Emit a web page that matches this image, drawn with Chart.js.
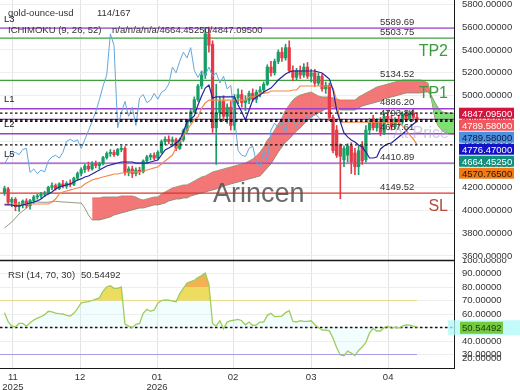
<!DOCTYPE html>
<html>
<head>
<meta charset="utf-8">
<title>gold-ounce-usd</title>
<script src="https://cdn.jsdelivr.net/npm/chart.js@4.4.1/dist/chart.umd.min.js"></script>
<style>
  html, body { margin: 0; padding: 0; background: #fff; }
  #page { position: relative; width: 520px; height: 390px; overflow: hidden; }
  #mainChart { position: absolute; left: 0; top: 0; }
  #rsiChart { position: absolute; left: 0; top: 259px; }
</style>
</head>
<body>
<div id="page">
  <canvas id="mainChart" width="520" height="260"></canvas>
  <canvas id="rsiChart" width="520" height="131"></canvas>
</div>
<script>
// ---- data (daily bars, index 0 = first bar shown) ----
const monthTicks = [2.3, 20.7, 41.8, 62.6, 84, 105.1];
const monthLabels = [['11', '2025'], ['12'], ['01', '2026'], ['02'], ['03'], ['04']];
const priceTicks = [3600, 3800, 4000, 4200, 4400, 4600, 4800, 5000, 5200, 5400, 5600, 5800];
const rsiTicks = [20, 30, 40, 50, 60, 70, 80, 90, 100];

const opens = [4150,4185,4070,4095,4030,4045,4080,4040,4085,4115, 4125,4140,4150,4200,4215,4190,4230,4210,4235,4225,
  4280,4320,4355,4385,4360,4410,4390,4405,4460,4495, 4505,4485,4530,4540,4330,4360,4320,4350,4335,4430,
  4465,4480,4455,4505,4600,4620,4600,4615,4540,4615, 4695,4775,4860,4965,5085,5180,5540,5450,4720,4850,
  4950,4820,4900,4740,4980,5010,4940,4960,5020,4970, 5030,5050,5100,5250,5200,5300,5380,5330,5420,5220,
  5160,5220,5180,5250,5170,5200,5110,5170,5060,5090, 4810,4700,4570,4440,4480,4560,4500,4380,4560,4440,
  4700,4800,4720,4780,4680,4820,4790,4730,4790,4770, 4840,4800,4850,4810];
const highs = [4210,4200,4110,4110,4070,4090,4100,4095,4130,4140, 4155,4165,4210,4240,4230,4240,4260,4250,4265,4290,
  4335,4370,4400,4420,4425,4430,4420,4470,4510,4530, 4525,4540,4560,4555,4380,4385,4370,4375,4440,4480,
  4495,4500,4520,4615,4640,4650,4640,4630,4630,4710, 4790,4880,4990,5100,5210,5595,5600,5480,5100,4990,
  5000,4930,4950,5010,5060,5050,5000,5040,5060,5050, 5080,5120,5270,5300,5320,5400,5420,5450,5480,5260,
  5240,5260,5280,5290,5230,5230,5200,5190,5120,5110, 4830,4740,4580,4560,4580,4590,4540,4560,4600,4740,
  4800,4830,4800,4810,4850,4870,4830,4810,4830,4860, 4870,4870,4880,4850];
const lows = [4130,4050,4030,3995,3990,4020,4020,4010,4060,4095, 4105,4120,4140,4180,4175,4180,4195,4190,4205,4215,
  4260,4300,4330,4340,4350,4370,4360,4395,4445,4470, 4470,4475,4510,4305,4300,4285,4300,4310,4325,4410,
  4440,4440,4445,4495,4575,4580,4570,4520,4530,4600, 4680,4760,4850,4950,5060,5150,5380,4680,4400,4780,
  4780,4760,4700,4700,4930,4900,4870,4930,4950,4940, 4990,5020,5090,5170,5180,5280,5300,5310,5200,5130,
  5140,5150,5160,5150,5120,5080,5090,5040,5020,4780, 4500,4460,4100,4380,4420,4320,4310,4310,4400,4420,
  4660,4700,4690,4650,4660,4760,4700,4710,4740,4750, 4780,4780,4780,4770];
const closes = [4190,4070,4095,4030,4045,4080,4040,4085,4115,4125, 4140,4150,4200,4215,4190,4230,4210,4235,4225,4280,
  4320,4355,4385,4360,4410,4390,4405,4460,4495,4505, 4485,4530,4540,4330,4360,4320,4350,4335,4430,4465,
  4480,4455,4505,4600,4620,4600,4615,4540,4615,4695, 4775,4860,4965,5085,5180,5540,5440,4720,4850,4950,
  4820,4900,4740,4980,5010,4940,4960,5020,4970,5030, 5050,5100,5250,5200,5300,5380,5330,5420,5220,5160,
  5220,5180,5250,5170,5200,5110,5170,5060,5090,4810, 4520,4480,4470,4540,4560,4420,4380,4520,4430,4700,
  4760,4720,4780,4680,4820,4790,4730,4790,4770,4840, 4800,4850,4810,4789.58];

const tenkan = [4046,4046,4046,4037,4037,4046,4054,4063,4072,4081, 4098,4124,4142,4159,4185,4203,4212,4220,4229,4246,
  4264,4273,4290,4299,4316,4334,4351,4369,4386,4395, 4404,4412,4421,4421,4421,4421,4412,4412,4412,4412,
  4421,4430,4438,4482,4526,4543,4561,4587,4613,4683, 4771,4797,4823,4919,4997,5067,5093,4980,4989,4989,
  4989,4989,4989,4989,4919,4858,4788,4875,4962,4989, 5006,5032,5050,5067,5102,5137,5163,5190,5207,5216,
  5216,5216,5216,5216,5216,5216,5207,5198,5172,5146, 5050,4875,4771,4674,4640,4613,4596,4570,4552,4508,
  4456,4456,4465,4535,4561,4579,4587,4613,4640,4666, 4692,4727,4753,4776.47];
const kijun = [4054,4054,4054,4054,4054,4054,4054,4054,4054,4054, 4054,4054,4054,4072,4098,4142,4159,4168,4177,4185,
  4194,4203,4229,4246,4264,4273,4281,4290,4299,4307, 4316,4316,4325,4325,4334,4334,4334,4334,4342,4351,
  4360,4369,4377,4404,4430,4456,4482,4543,4596,4648, 4700,4744,4788,4814,4893,4936,4962,4962,4962,4962,
  4962,4962,4962,4962,4962,4962,4962,4989,4989,4989, 5024,5024,5024,5041,5041,5041,5041,5041,5041,5050,
  5050,5085,5085,5085,5085,5085,5085,5085,5085,5085, 5067,4962,4770,4770,4770,4770,4770,4770,4770,4770,
  4770,4770,4770,4770,4770,4770,4770,4770,4770,4736, 4700,4657,4622,4570.765];
// leading spans run 26 bars past the last candle
const spanA = [3845,3871,3897,3932,3967,3993,4019,4046,4072,4072, 4070,4068,4070,4075,4078,4075,4072,4070,4068,4066,
  4063,4063,4019,3958,3915,3915,3915,3923,3932,3941, 3958,3967,3976,3984,3993,4002,4011,4019,4019,4028,
  4037,4046,4046,4054,4063,4081,4089,4098,4098,4107, 4107,4124,4133,4142,4150,4159,4168,4177,4185,4194,
  4212,4220,4229,4238,4246,4255,4264,4273,4281,4290, 4299,4334,4369,4404,4456,4508,4552,4596,4622,4657,
  4692,4718,4753,4788,4814,4831,4849,4866,4884,4901, 4901,4893,4875,4875,4875,4875,4875,4893,4910,4919,
  4928,4936,4945,4954,4971,4980,4989,4997,5006,5015, 5024,5024,5024,5024,5024,5032,5032,4997,4936,4884,
  4858,4849,4849,4847,4847];
const spanBStart = 24;
const spanB = [4107,4107,4107,4115,4115,4115,4115,4115,4124,4124, 4124,4124,4115,4098,4089,4098,4107,4115,4115,4142,
  4159,4177,4194,4203,4212,4220,4220,4238,4255,4273, 4290,4299,4316,4334,4342,4351,4360,4369,4377,4386,
  4395,4404,4412,4430,4447,4473,4508,4552,4613,4648, 4700,4753,4805,4875,4919,4962,4989,5006,5015,5024,
  5032,5015,4997,4989,4989,4989,4980,4971,4962,4962, 4962,4962,4962,4989,5006,5024,5041,5059,5076,5085,
  5093,5102,5111,5120,5128,5137,5137,5137,5137,5137, 5137,5128,5111,4962,4788,4727,4692,4674,4666,4664,
  4664];
const chikouShift = 26;

const rsi = [61,54.3,51,50.5,53,53,51,53.5,55.5,57, 58,59.5,62,61.5,60.7,60.3,60,59,58.5,60.5,
  64,68.2,68.8,69.2,70,71,72,77,80,81, 79,79,80,52.5,51,50,52.4,53,60.5,63.5,
  62,63,68,70,70.4,70.2,69.5,69,75,79, 83,84,85,87,88.5,90.4,82,53,51,55,
  49,54,55,55.5,56,55,52,54,51.5,52, 54,54,59,60.5,58,58.2,58.5,61,62.5,54.5,
  54,55,54.5,54.5,55,52,50,48,48,47.5, 42,35,29.6,29,32.5,31,29.2,33,35.5,39,
  46,49.2,47.4,47.4,50,51,49.2,50.2,49.6,51, 52,51.8,51,50.54492];
const rsiLevels = [70, 50, 30];

const levelValues = [5589.69, 5503.75, 5134.52, 4886.20, 4793.84, 4667.61, 4410.89, 4149.52];
const levelTags = ['L3', 'TP2', 'TP1', 'L1', '', 'L2', 'L5', 'SL'];
const markValues = [4847.095, 4789.58, 4789.58, 4776.47, 4664.4525, 4570.765];

// ---- styles ----
const FONT = '"Liberation Sans", Arial, sans-serif';
const UP = '#1a9e68', DOWN = '#e63b47';
const PURPLE = '#9c40cc', GREEN = '#3f9f3f', RED = '#d9362b';
const levelColors = [PURPLE, GREEN, GREEN, PURPLE, PURPLE, PURPLE, PURPLE, RED];
const markBg = ['#d3143d', '#f2555c', '#4d90e0', '#1212c6', '#13907d', '#f07a14'];
const markFg = ['#fff', '#fff', '#0d1a40', '#fff', '#fff', '#2a1400'];
const markDashed = [true, true, true, true, false, true];
const CLEAR = 'rgba(0,0,0,0)';

const X_MIN = -1.233, X_MAX = 123.14;

Chart.defaults.font.family = FONT;
Chart.defaults.font.size = 9.5;
Chart.defaults.color = '#333';

function flat(v, x0, x1) {
    return [{ x: x0, y: v }, { x: x1, y: v }];
}

function monthAxis(showLabels) {
    return {
        type: 'linear',
        min: X_MIN,
        max: X_MAX,
        offset: false,
        afterBuildTicks: (s) => { s.ticks = monthTicks.map(v => ({ value: v })); },
        ticks: {
            display: showLabels,
            autoSkip: false,
            maxRotation: 0,
            padding: 4,
            font: { size: 9.5, lineHeight: 1.1 },
            callback: (v, i) => monthLabels[i]
        },
        grid: { color: '#e4e4e4', drawTicks: false, offset: false },
        border: { display: true, color: '#1a1a1a', width: 1 },
        afterFit: (s) => {
            s.height = showLabels ? 22 : 0;
            s.paddingLeft = 0;
            s.paddingRight = 0;
        }
    };
}

// the lowest label sits pushed up inside the panel, as in the source chart
function rightAxis(min, max, tickList, liftFirst) {
    return {
        position: 'right',
        min: min,
        max: max,
        afterBuildTicks: (s) => {
            s.ticks = tickList.map((v, i) => ({ value: (i === 0 && liftFirst) ? v + liftFirst : v }));
        },
        ticks: { autoSkip: false, padding: 8, color: '#333', callback: (v, i) => tickList[i].toFixed(5) },
        grid: {
            color: (c) => (liftFirst && c.index === 0 ? CLEAR : '#eeeeee'),
            drawTicks: false
        },
        border: { display: true, color: '#1a1a1a', width: 1 },
        afterFit: (s) => {
            s.width = 66;
            s.paddingTop = 0;
            s.paddingBottom = 0;
        }
    };
}

// text, tags and price boxes for the price panel
const mainDecor = {
    id: 'mainDecor',
    afterDatasetsDraw(chart) {
        const ctx = chart.ctx;
        const y = chart.scales.y;
        ctx.save();
        ctx.textBaseline = 'alphabetic';

        ctx.font = '16px ' + FONT;
        ctx.fillStyle = 'rgba(165,160,200,0.55)';
        ctx.fillText('At Price', 393, 138);

        ctx.font = '27px ' + FONT;
        ctx.fillStyle = 'rgba(80,80,80,0.85)';
        ctx.fillText('Arincen', 213, 202);

        levelValues.forEach((v, k) => {
            const py = y.getPixelForValue(v);
            const tag = levelTags[k];
            ctx.textAlign = 'left';
            ctx.font = '9.5px ' + FONT;
            ctx.fillStyle = '#333';
            ctx.fillText(v.toFixed(2), 380, py - 3.3);
            if (tag.startsWith('L')) {
                ctx.fillStyle = '#222';
                ctx.fillText(tag, 4, py - 6.5);
            } else if (tag) {
                ctx.font = '16px ' + FONT;
                ctx.fillStyle = tag === 'SL' ? '#b54a3c' : '#3d9b3d';
                ctx.textAlign = 'right';
                ctx.fillText(tag, 448, py + 18);
            }
        });

        ctx.textAlign = 'left';
        ctx.font = '9.5px ' + FONT;
        ctx.fillStyle = '#333';
        ctx.fillText('gold-ounce-usd', 8, 16);
        ctx.fillText('114/167', 97, 16);
        ctx.fillText('ICHIMOKU (9, 26, 52)', 8, 33);
        ctx.fillText('n/a/n/a/n/a/' + markValues[4].toFixed(5) + '/' + markValues[0].toFixed(5), 112, 33);
        ctx.restore();
    },
    afterDraw(chart) {
        const ctx = chart.ctx;
        const y = chart.scales.y;
        ctx.save();
        ctx.font = '9.5px ' + FONT;
        ctx.textBaseline = 'alphabetic';
        let prevBottom = -100;
        markValues.forEach((v, k) => {
            const top = Math.max(y.getPixelForValue(v) - 5.5, prevBottom + 1);
            ctx.fillStyle = markBg[k];
            ctx.fillRect(459, top, 55, 11);
            ctx.fillStyle = markFg[k];
            ctx.fillText(v.toFixed(5), 462, top + 9);
            prevBottom = top + 11;
        });
        ctx.restore();
    }
};

const rsiDecor = {
    id: 'rsiDecor',
    afterDatasetsDraw(chart) {
        const ctx = chart.ctx;
        const area = chart.chartArea;
        ctx.save();
        ctx.strokeStyle = '#1a1a1a';
        ctx.lineWidth = 1.5;
        ctx.beginPath();
        ctx.moveTo(area.left, area.top + 0.5);
        ctx.lineTo(area.right, area.top + 0.5);
        ctx.stroke();
        ctx.font = '9.5px ' + FONT;
        ctx.fillStyle = '#333';
        ctx.fillText('RSI (14, 70, 30)', 8, 18.5);
        ctx.fillText(rsi[rsi.length - 1].toFixed(5), 81, 18.5);
        ctx.restore();
    },
    afterDraw(chart) {
        const ctx = chart.ctx;
        const last = rsi[rsi.length - 1];
        const py = chart.scales.y.getPixelForValue(last) + 1;
        ctx.save();
        ctx.fillStyle = 'rgba(175,250,250,0.75)';
        ctx.fillRect(448, py - 7.5, 72, 15);
        ctx.fillStyle = '#74c93c';
        ctx.fillRect(460, py - 6, 43, 12);
        ctx.font = '9.5px ' + FONT;
        ctx.fillStyle = '#173a17';
        ctx.fillText(last.toFixed(5), 462, py + 3.4);
        ctx.restore();
    }
};

const candleColors = closes.map((c, i) => (c >= opens[i] ? UP : DOWN));
const lastBar = closes.length - 1;

const mainDatasets = [
    {
        label: 'Senkou B', type: 'line',
        data: spanB.map((v, k) => ({ x: k + spanBStart, y: v })),
        borderColor: 'rgba(135,140,115,0.9)', borderWidth: 1, pointRadius: 0, fill: false, order: 20
    },
    {
        label: 'Senkou A', type: 'line',
        data: spanA.map((v, i) => ({ x: i, y: v })),
        borderColor: 'rgba(135,140,115,0.9)', borderWidth: 1, pointRadius: 0,
        fill: { target: 0, above: 'rgba(112,222,100,0.9)', below: 'rgba(243,100,100,0.88)' },
        order: 19
    },
    ...levelValues.map((v, k) => ({
        type: 'line', data: flat(v, X_MIN, X_MAX),
        borderColor: levelColors[k], borderWidth: 1.3, pointRadius: 0, fill: false, order: 15
    })),
    {
        label: 'wick', type: 'bar',
        data: lows.map((l, i) => ({ x: i, y: [l, highs[i]] })),
        backgroundColor: candleColors, barThickness: 1, grouped: false, order: 12
    },
    {
        label: 'body', type: 'bar',
        data: opens.map((o, i) => ({ x: i, y: [o, closes[i]] })),
        backgroundColor: candleColors, barThickness: 2.6, grouped: false, order: 11
    },
    {
        label: 'Chikou', type: 'line',
        data: closes.slice(chikouShift).map((c, i) => ({ x: i, y: c })),
        borderColor: '#63a7dc', borderWidth: 1, pointRadius: 0, fill: false, order: 9
    },
    {
        label: 'Kijun', type: 'line',
        data: kijun.map((v, i) => ({ x: i, y: v })),
        borderColor: '#f4894a', borderWidth: 1.2, pointRadius: 0, fill: false, order: 8
    },
    {
        label: 'Tenkan', type: 'line',
        data: tenkan.map((v, i) => ({ x: i, y: v })),
        borderColor: '#23239e', borderWidth: 1.2, pointRadius: 0, fill: false, order: 7
    },
    ...markValues.filter((v, k) => markDashed[k]).map(v => ({
        type: 'line', data: flat(v, X_MIN, X_MAX),
        borderColor: '#111', borderWidth: 1.3, borderDash: [2.5, 2.5], pointRadius: 0, fill: false, order: 5
    }))
];

new Chart(document.getElementById('mainChart'), {
    type: 'line',
    data: { datasets: mainDatasets },
    options: {
        responsive: false,
        animation: false,
        events: [],
        layout: { padding: 0 },
        plugins: { legend: { display: false }, tooltip: { enabled: false } },
        scales: {
            x: monthAxis(false),
            y: rightAxis(3565, 5836, priceTicks, 0)
        }
    },
    plugins: [mainDecor]
});

const rsiPts = rsi.map((v, i) => ({ x: i, y: v }));
const rsiLevelColors = ['#e8d98c', '#111', '#a99be8'];

new Chart(document.getElementById('rsiChart'), {
    type: 'line',
    data: {
        datasets: [
            { data: rsiPts, borderColor: CLEAR, borderWidth: 0, pointRadius: 0, order: 10,
              fill: { target: { value: 50 }, above: 'rgba(205,247,250,0.25)', below: 'rgba(205,247,250,0.25)' } },
            { data: rsiPts, borderColor: CLEAR, borderWidth: 0, pointRadius: 0, order: 9,
              fill: { target: { value: 70 }, above: '#ecdc60', below: CLEAR } },
            { data: rsiPts, borderColor: CLEAR, borderWidth: 0, pointRadius: 0, order: 8,
              fill: { target: { value: 80 }, above: 'rgba(243,168,80,0.8)', below: CLEAR } },
            { data: rsiPts, borderColor: CLEAR, borderWidth: 0, pointRadius: 0, order: 7,
              fill: { target: { value: 30 }, above: CLEAR, below: '#8c7fe0' } },
            ...rsiLevels.map((v, k) => ({
                data: flat(v, X_MIN, v === 50 ? X_MAX : lastBar),
                borderColor: rsiLevelColors[k], borderWidth: v === 50 ? 1.3 : 1.2,
                borderDash: v === 50 ? [2.5, 2.5] : [], pointRadius: 0, fill: false, order: 5
            })),
            { label: 'RSI', data: rsiPts, borderColor: '#9fcc5b', borderWidth: 1.3, pointRadius: 0, fill: false, order: 1 }
        ]
    },
    options: {
        responsive: false,
        animation: false,
        events: [],
        layout: { padding: { top: 1, left: 0, right: 0, bottom: 0 } },
        plugins: { legend: { display: false }, tooltip: { enabled: false } },
        scales: {
            x: monthAxis(true),
            y: rightAxis(20, 100, rsiTicks, 7)
        }
    },
    plugins: [rsiDecor]
});
</script>
</body>
</html>
